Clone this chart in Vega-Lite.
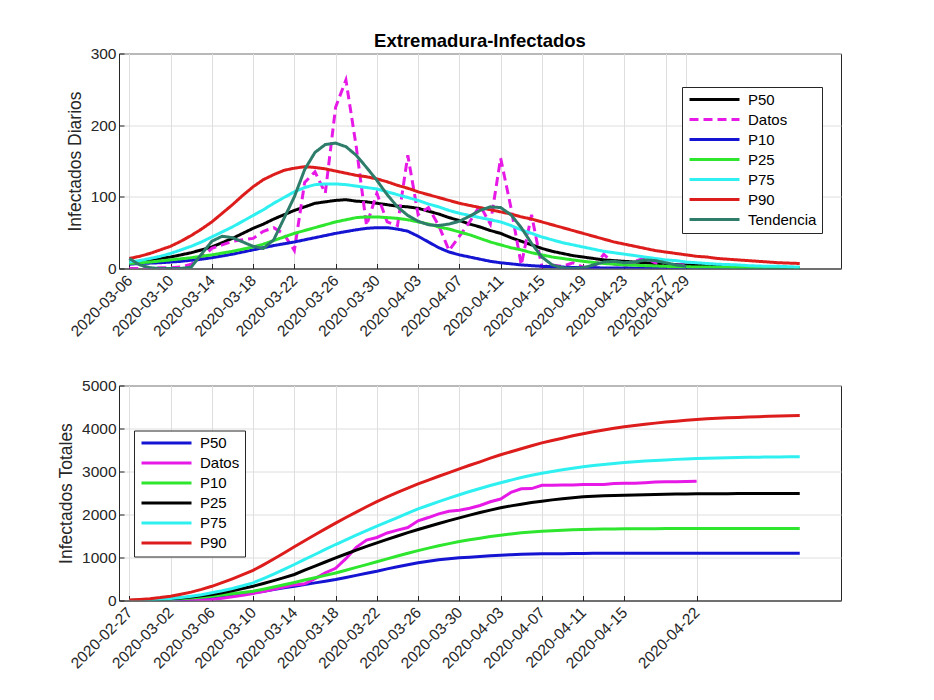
{
  "$schema": "https://vega.github.io/schema/vega-lite/v6.json",
  "background": "white",
  "padding": {"left": 57, "top": 31.5, "right": 5, "bottom": 5},
  "spacing": 37,
  "datasets": {
    "diarios": [
      {"fecha":"2020-03-06","P50":9,"Datos":0,"P10":6,"P25":7,"P75":9,"P90":14,"Tendencia":14},
      {"fecha":"2020-03-07","P50":10,"Datos":0,"P10":7,"P25":8,"P75":11,"P90":17,"Tendencia":5},
      {"fecha":"2020-03-08","P50":12,"Datos":0,"P10":7.5,"P25":9,"P75":14,"P90":21,"Tendencia":1},
      {"fecha":"2020-03-09","P50":14,"Datos":1,"P10":8,"P25":10.5,"P75":17,"P90":26,"Tendencia":0},
      {"fecha":"2020-03-10","P50":16,"Datos":1,"P10":9,"P25":12,"P75":21,"P90":31,"Tendencia":0},
      {"fecha":"2020-03-11","P50":19,"Datos":2,"P10":10,"P25":13.5,"P75":26,"P90":38,"Tendencia":0},
      {"fecha":"2020-03-12","P50":22,"Datos":6,"P10":11.5,"P25":15,"P75":31,"P90":46,"Tendencia":2},
      {"fecha":"2020-03-13","P50":26,"Datos":15,"P10":13,"P25":17,"P75":37,"P90":55,"Tendencia":20},
      {"fecha":"2020-03-14","P50":30,"Datos":28,"P10":15,"P25":19,"P75":44,"P90":65,"Tendencia":38},
      {"fecha":"2020-03-15","P50":36,"Datos":33,"P10":17.5,"P25":21.5,"P75":51,"P90":77,"Tendencia":45},
      {"fecha":"2020-03-16","P50":42,"Datos":38,"P10":20,"P25":24,"P75":58,"P90":89,"Tendencia":43},
      {"fecha":"2020-03-17","P50":49,"Datos":40,"P10":23,"P25":27,"P75":66,"P90":102,"Tendencia":37},
      {"fecha":"2020-03-18","P50":56,"Datos":42,"P10":26,"P25":30,"P75":74,"P90":114,"Tendencia":31},
      {"fecha":"2020-03-19","P50":62,"Datos":52,"P10":29,"P25":34,"P75":82,"P90":124,"Tendencia":28},
      {"fecha":"2020-03-20","P50":69,"Datos":57,"P10":32,"P25":39,"P75":91,"P90":131,"Tendencia":40},
      {"fecha":"2020-03-21","P50":75,"Datos":48,"P10":34.5,"P25":44,"P75":99,"P90":137,"Tendencia":70},
      {"fecha":"2020-03-22","P50":81,"Datos":25,"P10":37,"P25":49,"P75":107,"P90":140,"Tendencia":100},
      {"fecha":"2020-03-23","P50":86,"Datos":120,"P10":40,"P25":53,"P75":113,"P90":142,"Tendencia":138},
      {"fecha":"2020-03-24","P50":91,"Datos":135,"P10":43,"P25":57,"P75":117,"P90":141,"Tendencia":162},
      {"fecha":"2020-03-25","P50":93,"Datos":105,"P10":46,"P25":61,"P75":118,"P90":139,"Tendencia":173},
      {"fecha":"2020-03-26","P50":95,"Datos":225,"P10":49,"P25":65,"P75":118,"P90":136,"Tendencia":175},
      {"fecha":"2020-03-27","P50":96,"Datos":263,"P10":51.5,"P25":68,"P75":117,"P90":133,"Tendencia":170},
      {"fecha":"2020-03-28","P50":94,"Datos":170,"P10":54,"P25":71,"P75":115,"P90":130,"Tendencia":158},
      {"fecha":"2020-03-29","P50":93,"Datos":60,"P10":56,"P25":72,"P75":113,"P90":128,"Tendencia":141},
      {"fecha":"2020-03-30","P50":91,"Datos":105,"P10":57,"P25":72,"P75":111,"P90":125,"Tendencia":123},
      {"fecha":"2020-03-31","P50":89,"Datos":65,"P10":57,"P25":71,"P75":107,"P90":121,"Tendencia":103},
      {"fecha":"2020-04-01","P50":87,"Datos":60,"P10":55,"P25":70,"P75":103,"P90":116,"Tendencia":86},
      {"fecha":"2020-04-02","P50":86,"Datos":158,"P10":52,"P25":68,"P75":99,"P90":112,"Tendencia":74},
      {"fecha":"2020-04-03","P50":84,"Datos":75,"P10":45,"P25":65,"P75":95,"P90":107,"Tendencia":66},
      {"fecha":"2020-04-04","P50":80,"Datos":85,"P10":37,"P25":62,"P75":90,"P90":103,"Tendencia":61},
      {"fecha":"2020-04-05","P50":76,"Datos":60,"P10":29,"P25":58,"P75":86,"P90":99,"Tendencia":60},
      {"fecha":"2020-04-06","P50":71,"Datos":25,"P10":23,"P25":55,"P75":81,"P90":95,"Tendencia":62},
      {"fecha":"2020-04-07","P50":67,"Datos":45,"P10":19,"P25":51,"P75":77,"P90":91,"Tendencia":66},
      {"fecha":"2020-04-08","P50":62,"Datos":65,"P10":16,"P25":47,"P75":74,"P90":88,"Tendencia":73},
      {"fecha":"2020-04-09","P50":58,"Datos":88,"P10":13,"P25":42,"P75":71,"P90":85,"Tendencia":81},
      {"fecha":"2020-04-10","P50":53,"Datos":62,"P10":10,"P25":37,"P75":68,"P90":82,"Tendencia":86},
      {"fecha":"2020-04-11","P50":49,"Datos":154,"P10":8,"P25":33,"P75":65,"P90":79,"Tendencia":85},
      {"fecha":"2020-04-12","P50":43,"Datos":85,"P10":6.5,"P25":29,"P75":60,"P90":76,"Tendencia":75},
      {"fecha":"2020-04-13","P50":38,"Datos":5,"P10":5,"P25":26,"P75":54,"P90":72,"Tendencia":57},
      {"fecha":"2020-04-14","P50":33,"Datos":75,"P10":4,"P25":22,"P75":49,"P90":69,"Tendencia":35},
      {"fecha":"2020-04-15","P50":28,"Datos":2,"P10":3,"P25":19,"P75":44,"P90":65,"Tendencia":16},
      {"fecha":"2020-04-16","P50":24,"Datos":5,"P10":2.5,"P25":16,"P75":40,"P90":61,"Tendencia":5},
      {"fecha":"2020-04-17","P50":21,"Datos":3,"P10":2,"P25":14,"P75":36,"P90":57,"Tendencia":1},
      {"fecha":"2020-04-18","P50":18,"Datos":8,"P10":1.5,"P25":12,"P75":33,"P90":53,"Tendencia":0},
      {"fecha":"2020-04-19","P50":16,"Datos":2,"P10":1,"P25":10,"P75":30,"P90":49,"Tendencia":1},
      {"fecha":"2020-04-20","P50":14,"Datos":1,"P10":1,"P25":8.5,"P75":27,"P90":45,"Tendencia":5},
      {"fecha":"2020-04-21","P50":12,"Datos":20,"P10":0.8,"P25":7,"P75":24,"P90":41,"Tendencia":9},
      {"fecha":"2020-04-22","P50":11,"Datos":6,"P10":0.7,"P25":6,"P75":22,"P90":37,"Tendencia":10},
      {"fecha":"2020-04-23","P50":10,"Datos":3,"P10":0.6,"P25":5,"P75":20,"P90":34,"Tendencia":8},
      {"fecha":"2020-04-24","P50":9,"Datos":10,"P10":0.5,"P25":4.5,"P75":18,"P90":31,"Tendencia":9},
      {"fecha":"2020-04-25","P50":8,"Datos":15,"P10":0.5,"P25":4,"P75":16,"P90":28,"Tendencia":12},
      {"fecha":"2020-04-26","P50":7,"Datos":8,"P10":0.4,"P25":3.5,"P75":14,"P90":25,"Tendencia":11},
      {"fecha":"2020-04-27","P50":6,"Datos":2,"P10":0.4,"P25":3,"P75":12,"P90":23,"Tendencia":8},
      {"fecha":"2020-04-28","P50":5.5,"Datos":5,"P10":0.3,"P25":2.7,"P75":11,"P90":21,"Tendencia":5},
      {"fecha":"2020-04-29","P50":5,"Datos":5,"P10":0.3,"P25":2.4,"P75":9,"P90":19,"Tendencia":3},
      {"fecha":"2020-04-30","P50":4.5,"P10":0.3,"P25":2.1,"P75":8,"P90":17},
      {"fecha":"2020-05-01","P50":4,"P10":0.3,"P25":2,"P75":7,"P90":16},
      {"fecha":"2020-05-02","P50":3.5,"P10":0.2,"P25":1.8,"P75":6,"P90":14},
      {"fecha":"2020-05-03","P50":3,"P10":0.2,"P25":1.6,"P75":5.5,"P90":13},
      {"fecha":"2020-05-04","P50":2.5,"P10":0.2,"P25":1.5,"P75":5,"P90":12},
      {"fecha":"2020-05-05","P50":2,"P10":0.2,"P25":1.4,"P75":4,"P90":11},
      {"fecha":"2020-05-06","P50":2,"P10":0.1,"P25":1.3,"P75":3.5,"P90":10},
      {"fecha":"2020-05-07","P50":1.5,"P10":0.1,"P25":1.2,"P75":3,"P90":9},
      {"fecha":"2020-05-08","P50":1.5,"P10":0.1,"P25":1.1,"P75":3,"P90":8},
      {"fecha":"2020-05-09","P50":1,"P10":0.1,"P25":1,"P75":2.5,"P90":7.5},
      {"fecha":"2020-05-10","P50":1,"P10":0.1,"P25":1,"P75":2,"P90":7}
    ],
    "totales": [
      {"fecha":"2020-02-27","P50":0,"Datos":0,"P10":0,"P25":0,"P75":0,"P90":10},
      {"fecha":"2020-02-28","P50":2,"Datos":0,"P10":3,"P25":6,"P75":8,"P90":25},
      {"fecha":"2020-02-29","P50":5,"Datos":0,"P10":8,"P25":14,"P75":18,"P90":42},
      {"fecha":"2020-03-01","P50":9,"Datos":0,"P10":15,"P25":25,"P75":30,"P90":68},
      {"fecha":"2020-03-02","P50":15,"Datos":1,"P10":23,"P25":39,"P75":47,"P90":100},
      {"fecha":"2020-03-03","P50":24,"Datos":2,"P10":38,"P25":58,"P75":70,"P90":145},
      {"fecha":"2020-03-04","P50":35,"Datos":4,"P10":56,"P25":82,"P75":100,"P90":195},
      {"fecha":"2020-03-05","P50":48,"Datos":10,"P10":77,"P25":109,"P75":135,"P90":258},
      {"fecha":"2020-03-06","P50":62,"Datos":25,"P10":100,"P25":140,"P75":178,"P90":330},
      {"fecha":"2020-03-07","P50":85,"Datos":53,"P10":125,"P25":180,"P75":225,"P90":415},
      {"fecha":"2020-03-08","P50":115,"Datos":86,"P10":155,"P25":228,"P75":280,"P90":505},
      {"fecha":"2020-03-09","P50":146,"Datos":124,"P10":185,"P25":280,"P75":342,"P90":600},
      {"fecha":"2020-03-10","P50":178,"Datos":164,"P10":217,"P25":333,"P75":411,"P90":700},
      {"fecha":"2020-03-11","P50":215,"Datos":206,"P10":262,"P25":395,"P75":510,"P90":830},
      {"fecha":"2020-03-12","P50":255,"Datos":258,"P10":312,"P25":462,"P75":615,"P90":965},
      {"fecha":"2020-03-13","P50":295,"Datos":315,"P10":365,"P25":532,"P75":725,"P90":1105},
      {"fecha":"2020-03-14","P50":333,"Datos":363,"P10":420,"P25":605,"P75":837,"P90":1250},
      {"fecha":"2020-03-15","P50":370,"Datos":388,"P10":475,"P25":705,"P75":955,"P90":1390},
      {"fecha":"2020-03-16","P50":410,"Datos":508,"P10":530,"P25":800,"P75":1070,"P90":1530},
      {"fecha":"2020-03-17","P50":450,"Datos":643,"P10":585,"P25":895,"P75":1187,"P90":1665},
      {"fecha":"2020-03-18","P50":488,"Datos":748,"P10":640,"P25":992,"P75":1302,"P90":1800},
      {"fecha":"2020-03-19","P50":535,"Datos":973,"P10":705,"P25":1082,"P75":1410,"P90":1930},
      {"fecha":"2020-03-20","P50":585,"Datos":1236,"P10":770,"P25":1170,"P75":1518,"P90":2055},
      {"fecha":"2020-03-21","P50":635,"Datos":1406,"P10":835,"P25":1257,"P75":1625,"P90":2180},
      {"fecha":"2020-03-22","P50":682,"Datos":1466,"P10":900,"P25":1341,"P75":1729,"P90":2300},
      {"fecha":"2020-03-23","P50":735,"Datos":1571,"P10":968,"P25":1422,"P75":1830,"P90":2410},
      {"fecha":"2020-03-24","P50":785,"Datos":1636,"P10":1035,"P25":1500,"P75":1930,"P90":2515},
      {"fecha":"2020-03-25","P50":833,"Datos":1696,"P10":1100,"P25":1577,"P75":2030,"P90":2615},
      {"fecha":"2020-03-26","P50":876,"Datos":1854,"P10":1160,"P25":1651,"P75":2130,"P90":2710},
      {"fecha":"2020-03-27","P50":915,"Datos":1929,"P10":1218,"P25":1722,"P75":2215,"P90":2800},
      {"fecha":"2020-03-28","P50":948,"Datos":2014,"P10":1272,"P25":1790,"P75":2300,"P90":2890},
      {"fecha":"2020-03-29","P50":972,"Datos":2074,"P10":1323,"P25":1857,"P75":2380,"P90":2975},
      {"fecha":"2020-03-30","P50":992,"Datos":2099,"P10":1370,"P25":1922,"P75":2460,"P90":3060},
      {"fecha":"2020-03-31","P50":1008,"Datos":2144,"P10":1412,"P25":1985,"P75":2535,"P90":3145},
      {"fecha":"2020-04-01","P50":1022,"Datos":2209,"P10":1450,"P25":2045,"P75":2605,"P90":3225},
      {"fecha":"2020-04-02","P50":1040,"Datos":2297,"P10":1487,"P25":2102,"P75":2675,"P90":3310},
      {"fecha":"2020-04-03","P50":1054,"Datos":2359,"P10":1520,"P25":2155,"P75":2740,"P90":3390},
      {"fecha":"2020-04-04","P50":1065,"Datos":2513,"P10":1548,"P25":2200,"P75":2800,"P90":3460},
      {"fecha":"2020-04-05","P50":1073,"Datos":2598,"P10":1573,"P25":2240,"P75":2860,"P90":3530},
      {"fecha":"2020-04-06","P50":1080,"Datos":2603,"P10":1593,"P25":2277,"P75":2912,"P90":3600},
      {"fecha":"2020-04-07","P50":1085,"Datos":2678,"P10":1610,"P25":2310,"P75":2960,"P90":3665},
      {"fecha":"2020-04-08","P50":1088,"Datos":2680,"P10":1623,"P25":2340,"P75":3000,"P90":3720},
      {"fecha":"2020-04-09","P50":1090,"Datos":2685,"P10":1634,"P25":2367,"P75":3040,"P90":3775},
      {"fecha":"2020-04-10","P50":1092,"Datos":2688,"P10":1643,"P25":2390,"P75":3077,"P90":3830},
      {"fecha":"2020-04-11","P50":1094,"Datos":2696,"P10":1650,"P25":2411,"P75":3110,"P90":3880},
      {"fecha":"2020-04-12","P50":1096,"Datos":2698,"P10":1656,"P25":2425,"P75":3138,"P90":3925},
      {"fecha":"2020-04-13","P50":1097,"Datos":2699,"P10":1661,"P25":2436,"P75":3163,"P90":3965},
      {"fecha":"2020-04-14","P50":1098,"Datos":2719,"P10":1664,"P25":2444,"P75":3188,"P90":4005},
      {"fecha":"2020-04-15","P50":1099,"Datos":2725,"P10":1667,"P25":2450,"P75":3210,"P90":4040},
      {"fecha":"2020-04-16","P50":1100,"Datos":2728,"P10":1669,"P25":2456,"P75":3227,"P90":4070},
      {"fecha":"2020-04-17","P50":1100,"Datos":2738,"P10":1670,"P25":2461,"P75":3243,"P90":4100},
      {"fecha":"2020-04-18","P50":1100,"Datos":2753,"P10":1671,"P25":2466,"P75":3257,"P90":4125},
      {"fecha":"2020-04-19","P50":1100,"Datos":2761,"P10":1672,"P25":2470,"P75":3270,"P90":4150},
      {"fecha":"2020-04-20","P50":1100,"Datos":2763,"P10":1673,"P25":2474,"P75":3282,"P90":4170},
      {"fecha":"2020-04-21","P50":1100,"Datos":2768,"P10":1674,"P25":2478,"P75":3292,"P90":4190},
      {"fecha":"2020-04-22","P50":1100,"Datos":2773,"P10":1674,"P25":2481,"P75":3300,"P90":4208},
      {"fecha":"2020-04-23","P50":1100,"P10":1675,"P25":2483,"P75":3307,"P90":4225},
      {"fecha":"2020-04-24","P50":1100,"P10":1675,"P25":2484,"P75":3314,"P90":4237},
      {"fecha":"2020-04-25","P50":1100,"P10":1675,"P25":2485,"P75":3320,"P90":4248},
      {"fecha":"2020-04-26","P50":1100,"P10":1675,"P25":2486,"P75":3325,"P90":4258},
      {"fecha":"2020-04-27","P50":1100,"P10":1675,"P25":2486,"P75":3330,"P90":4268},
      {"fecha":"2020-04-28","P50":1100,"P10":1675,"P25":2487,"P75":3334,"P90":4276},
      {"fecha":"2020-04-29","P50":1100,"P10":1675,"P25":2487,"P75":3337,"P90":4283},
      {"fecha":"2020-04-30","P50":1100,"P10":1675,"P25":2488,"P75":3340,"P90":4290},
      {"fecha":"2020-05-01","P50":1100,"P10":1675,"P25":2488,"P75":3343,"P90":4295},
      {"fecha":"2020-05-02","P50":1100,"P10":1675,"P25":2488,"P75":3345,"P90":4300}
    ]
  },
  "vconcat": [
    {
      "width": 722,
      "height": 215,
      "title": {"text": "Extremadura-Infectados", "fontSize": 18.5, "fontWeight": "bold", "color": "#000000", "font": "Liberation Sans", "offset": -4},
      "data": {"name": "diarios"},
      "transform": [{"fold": ["P50", "Datos", "P10", "P25", "P75", "P90", "Tendencia"], "as": ["serie", "valor"]}],
      "mark": {"type": "line", "strokeWidth": 3, "clip": true},
      "encoding": {
        "x": {
          "field": "fecha", "type": "temporal",
          "scale": {"type": "utc", "domain": [{"year": 2020, "month": 3, "date": 5, "utc": true}, {"year": 2020, "month": 5, "date": 14, "utc": true}]},
          "axis": {
            "title": null, "format": "%Y-%m-%d",
            "values": [
              {"year": 2020, "month": 3, "date": 6, "utc": true},
              {"year": 2020, "month": 3, "date": 10, "utc": true},
              {"year": 2020, "month": 3, "date": 14, "utc": true},
              {"year": 2020, "month": 3, "date": 18, "utc": true},
              {"year": 2020, "month": 3, "date": 22, "utc": true},
              {"year": 2020, "month": 3, "date": 26, "utc": true},
              {"year": 2020, "month": 3, "date": 30, "utc": true},
              {"year": 2020, "month": 4, "date": 3, "utc": true},
              {"year": 2020, "month": 4, "date": 7, "utc": true},
              {"year": 2020, "month": 4, "date": 11, "utc": true},
              {"year": 2020, "month": 4, "date": 15, "utc": true},
              {"year": 2020, "month": 4, "date": 19, "utc": true},
              {"year": 2020, "month": 4, "date": 23, "utc": true},
              {"year": 2020, "month": 4, "date": 27, "utc": true},
              {"year": 2020, "month": 4, "date": 29, "utc": true}
            ]
          }
        },
        "y": {
          "field": "valor", "type": "quantitative",
          "scale": {"domain": [0, 300], "nice": false},
          "axis": {"title": "Infectados Diarios", "values": [0, 100, 200, 300], "format": "d"}
        },
        "color": {
          "field": "serie", "type": "nominal",
          "scale": {"domain": ["P50", "Datos", "P10", "P25", "P75", "P90", "Tendencia"], "range": ["#000000", "#e619e6", "#1414d2", "#2ee62e", "#2ef0f0", "#dd1c1c", "#2e7d6b"]},
          "legend": {"legendX": 563, "legendY": 33.5}
        },
        "strokeDash": {
          "field": "serie", "type": "nominal",
          "scale": {"domain": ["P50", "Datos", "P10", "P25", "P75", "P90", "Tendencia"], "range": [[1, 0], [9, 5], [1, 0], [1, 0], [1, 0], [1, 0], [1, 0]]},
          "legend": {"legendX": 563, "legendY": 33.5}
        }
      }
    },
    {
      "width": 722,
      "height": 215,
      "data": {"name": "totales"},
      "transform": [{"fold": ["P50", "Datos", "P10", "P25", "P75", "P90"], "as": ["serie", "valor"]}],
      "mark": {"type": "line", "strokeWidth": 3, "clip": true},
      "encoding": {
        "x": {
          "field": "fecha", "type": "temporal",
          "scale": {"type": "utc", "domain": [{"year": 2020, "month": 2, "date": 26, "utc": true}, {"year": 2020, "month": 5, "date": 6, "utc": true}]},
          "axis": {
            "title": null, "format": "%Y-%m-%d",
            "values": [
              {"year": 2020, "month": 2, "date": 27, "utc": true},
              {"year": 2020, "month": 3, "date": 2, "utc": true},
              {"year": 2020, "month": 3, "date": 6, "utc": true},
              {"year": 2020, "month": 3, "date": 10, "utc": true},
              {"year": 2020, "month": 3, "date": 14, "utc": true},
              {"year": 2020, "month": 3, "date": 18, "utc": true},
              {"year": 2020, "month": 3, "date": 22, "utc": true},
              {"year": 2020, "month": 3, "date": 26, "utc": true},
              {"year": 2020, "month": 3, "date": 30, "utc": true},
              {"year": 2020, "month": 4, "date": 3, "utc": true},
              {"year": 2020, "month": 4, "date": 7, "utc": true},
              {"year": 2020, "month": 4, "date": 11, "utc": true},
              {"year": 2020, "month": 4, "date": 15, "utc": true},
              {"year": 2020, "month": 4, "date": 22, "utc": true}
            ]
          }
        },
        "y": {
          "field": "valor", "type": "quantitative",
          "scale": {"domain": [0, 5000], "nice": false},
          "axis": {"title": "Infectados Totales", "values": [0, 1000, 2000, 3000, 4000, 5000], "format": "d"}
        },
        "color": {
          "field": "serie", "type": "nominal",
          "scale": {"domain": ["P50", "Datos", "P10", "P25", "P75", "P90"], "range": ["#1414d2", "#e619e6", "#2ee62e", "#000000", "#2ef0f0", "#dd1c1c"]},
          "legend": {"legendX": 15, "legendY": 45}
        }
      }
    }
  ],
  "resolve": {
    "scale": {"color": "independent", "strokeDash": "independent", "x": "independent", "y": "independent"},
    "legend": {"color": "independent", "strokeDash": "independent"}
  },
  "config": {
    "font": "Liberation Sans",
    "view": {"stroke": "#262626", "strokeWidth": 1},
    "axis": {
      "labelFont": "Liberation Sans", "labelFontSize": 15.5, "labelColor": "#262626",
      "titleFont": "Liberation Sans", "titleFontSize": 17.5, "titleFontWeight": "normal", "titleColor": "#262626",
      "domainColor": "#262626", "tickColor": "#262626", "gridColor": "#dedede", "gridOpacity": 1,
      "tickSize": -5, "labelPadding": 8
    },
    "axisX": {"labelAngle": -45, "labelAlign": "right", "labelBaseline": "middle", "labelPadding": 14, "labelOverlap": false, "grid": true},
    "axisY": {"titlePadding": 6, "grid": true, "labelPadding": 8},
    "legend": {
      "orient": "none", "title": null,
      "strokeColor": "#262626", "fillColor": "#ffffff", "padding": 5, "cornerRadius": 0,
      "symbolType": "M-12.5,0H12.5", "symbolSize": 16, "symbolStrokeWidth": 3,
      "symbolOffset": 20, "labelOffset": 26,
      "labelFont": "Liberation Sans", "labelFontSize": 15, "labelColor": "#000000",
      "rowPadding": 4,
      "labelExpr": "datum.label === 'Datos' ? '\u00a0Datos' : datum.label"
    }
  }
}
